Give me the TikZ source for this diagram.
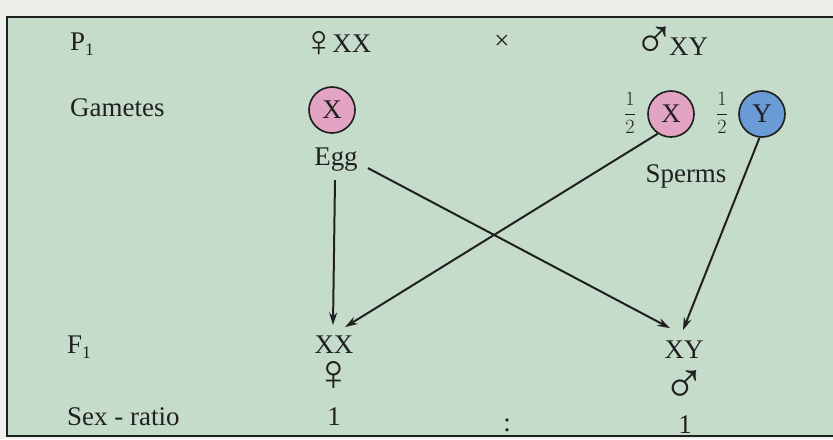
\documentclass[tikz,border=0pt]{standalone}
\usepackage{fontspec}
\setmainfont{Liberation Serif}
\newfontfamily\symf{Liberation Serif}
\usetikzlibrary{arrows.meta}
\definecolor{bgpaper}{HTML}{ECEFEA}
\definecolor{bggreen}{HTML}{C6DCCB}
\definecolor{pinkgam}{HTML}{E3A3C3}
\definecolor{bluegam}{HTML}{6B9BD6}
\definecolor{inkc}{HTML}{202020}
\begin{document}
\begin{tikzpicture}[x=0.03cm,y=-0.03cm,
  lbl/.style={inner sep=0pt,text=inkc,font=\fontsize{23}{26}\selectfont},
  gam/.style={circle,draw=inkc,line width=1.4pt,minimum size=1.38cm,inner sep=0pt,text=inkc,font=\fontsize{23}{26}\selectfont},
  arr/.style={draw=inkc,line width=1.7pt,-{Stealth[length=0.38cm,width=0.24cm]}},
  half/.style={inner sep=0pt,text=inkc,font=\fontsize{18}{20}\selectfont}]
\useasboundingbox (0,0) rectangle (833,439);
\fill[bgpaper] (0,0) rectangle (833,439);
\begin{scope}
\clip (0,0) rectangle (833,439);
\fill[bggreen] (7,17) rectangle (850,436);
\draw[inkc,line width=1.6pt] (850,17) -- (7,17) -- (7,436) -- (850,436);
\end{scope}
% row labels
\node[lbl,anchor=base west] (p1) at (70,50) {P\raisebox{-0.45ex}{\fontsize{15}{16}\selectfont 1}};
\node[lbl,anchor=base west] (gametes) at (70,116) {Gametes};
\node[lbl,anchor=base west] (f1) at (67,353) {F\raisebox{-0.45ex}{\fontsize{15}{16}\selectfont 1}};
\node[lbl,anchor=base west] (sexratio) at (67,425) {Sex - ratio};
% parents
\node[lbl,anchor=base] (female) at (337,52) {\raisebox{-4pt}{\symf\fontsize{38}{40}\selectfont ♀}\kern-3pt XX};
\node[lbl] (cross) at (502,42) {\texttimes};
\node[lbl,anchor=base] (male) at (671,55) {\raisebox{-3pt}{\symf\fontsize{48}{50}\selectfont ♂}\kern-6pt XY};
% gametes
\node[gam,fill=pinkgam] (ex) at (332,110) {X};
\node[lbl,anchor=base] (egg) at (336,165) {Egg};
\node[gam,fill=pinkgam] (sx) at (671,114) {X};
\node[gam,fill=bluegam] (sy) at (762,114) {Y};
\node[half] (hx) at (630,113) {$\displaystyle\frac{1}{2}$};
\node[half] (hy) at (722,113) {$\displaystyle\frac{1}{2}$};
\node[lbl,anchor=base] (sperms) at (686,182) {Sperms};
% offspring
\node[lbl,anchor=base] (xx) at (334,353) {XX};
\node[inner sep=0pt,text=inkc,font=\symf\fontsize{44}{46}\selectfont] (fsym) at (334,376) {♀};
\node[lbl,anchor=base] (xy) at (684,358) {XY};
\node[inner sep=0pt,text=inkc,font=\symf\fontsize{50}{52}\selectfont] (msym) at (684,387) {♂};
\node[lbl,anchor=base] (r1) at (334,425) {1};
\node[lbl,anchor=base] (colon) at (507,431) {:};
\node[lbl,anchor=base] (r2) at (685,433) {1};
% crosses
\draw[arr] ([shift={(-1,9)}]egg.south) -- ([shift={(-1,-10)}]xx.north);
\draw[arr] ([shift={(10,9)}]egg.east) -- ([shift={(-14,-12)}]xy.north);
\draw[arr] (sx.-124) -- ([shift={(11,-8)}]xx.north);
\draw[arr] (sy.-96) -- ([shift={(-1,-10)}]xy.north);
\end{tikzpicture}
\end{document}
